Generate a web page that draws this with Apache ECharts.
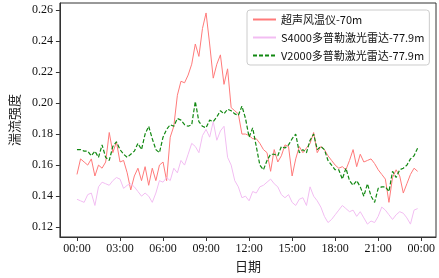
<!DOCTYPE html>
<html>
<head>
<meta charset="utf-8">
<script src="https://cdn.jsdelivr.net/npm/echarts@6/dist/echarts.min.js"></script>
<style>
  html, body { margin: 0; padding: 0; background: #fff; }
  #chart { width: 439px; height: 278px; }
</style>
</head>
<body>
<div id="chart"></div>
<script>
// 图例名称
const seriesNames = ['超声风温仪-70m', 'S4000多普勒激光雷达-77.9m', 'V2000多普勒激光雷达-77.9m'];

// 每15分钟一个点, 00:00 - 23:45
const sonic = [
  0.154, 0.164, 0.162, 0.160, 0.164, 0.153, 0.160, 0.158, 0.162, 0.181,
  0.168, 0.175, 0.162, 0.163, 0.155, 0.144, 0.153, 0.158, 0.150, 0.159,
  0.147, 0.158, 0.150, 0.160, 0.162, 0.150, 0.178, 0.185, 0.205, 0.214,
  0.213, 0.218, 0.225, 0.238, 0.230, 0.248, 0.258, 0.238, 0.216, 0.225,
  0.231, 0.212, 0.222, 0.197, 0.195, 0.193, 0.180, 0.180, 0.179, 0.177,
  0.177, 0.174, 0.170, 0.168, 0.156, 0.170, 0.162, 0.166, 0.173, 0.172,
  0.153, 0.164, 0.172, 0.168, 0.171, 0.174, 0.181, 0.168, 0.172, 0.170,
  0.166, 0.163, 0.160, 0.158, 0.159, 0.157, 0.163, 0.170, 0.159, 0.167,
  0.162, 0.163, 0.164, 0.161, 0.157, 0.154, 0.151, 0.136, 0.152, 0.157,
  0.153, 0.142, 0.148, 0.154, 0.158, 0.156
];
const s4000 = [
  0.138, 0.137, 0.136, 0.141, 0.142, 0.134, 0.146, 0.149, 0.148, 0.147,
  0.150, 0.152, 0.151, 0.145, 0.147, 0.148, 0.146, 0.143, 0.140, 0.142,
  0.140, 0.136, 0.142, 0.150, 0.149, 0.152, 0.150, 0.158, 0.155, 0.163,
  0.160, 0.167, 0.174, 0.172, 0.168, 0.179, 0.183, 0.178, 0.188, 0.176,
  0.182, 0.185, 0.165, 0.160, 0.150, 0.146, 0.139, 0.140, 0.137, 0.143,
  0.142, 0.146, 0.147, 0.149, 0.151, 0.148, 0.146, 0.141, 0.139, 0.141,
  0.136, 0.134, 0.138, 0.139, 0.134, 0.146, 0.140, 0.137, 0.133, 0.127,
  0.123, 0.125, 0.128, 0.131, 0.134, 0.132, 0.130, 0.131, 0.127, 0.130,
  0.126, 0.122, 0.124, 0.123, 0.127, 0.133, 0.131, 0.128, 0.125, 0.128,
  0.130, 0.129, 0.126, 0.122, 0.131, 0.132
];
const v2000 = [
  0.170, 0.170, 0.169, 0.169, 0.166, 0.169, 0.165, 0.173, 0.165, 0.163,
  0.172, 0.175, 0.170, 0.167, 0.165, 0.167, 0.169, 0.174, 0.170, 0.180,
  0.185, 0.177, 0.170, 0.168, 0.178, 0.183, 0.186, 0.185, 0.190, 0.189,
  0.186, 0.185, 0.186, 0.201, 0.188, 0.185, 0.184, 0.189, 0.188, 0.191,
  0.195, 0.193, 0.196, 0.195, 0.193, 0.192, 0.198, 0.190, 0.178, 0.184,
  0.172, 0.160, 0.157, 0.163, 0.167, 0.167, 0.166, 0.172, 0.171, 0.173,
  0.177, 0.180, 0.168, 0.170, 0.168, 0.176, 0.180, 0.170, 0.172, 0.170,
  0.163, 0.160, 0.157, 0.157, 0.151, 0.158, 0.150, 0.147, 0.150, 0.146,
  0.140, 0.148, 0.140, 0.136, 0.145, 0.146, 0.146, 0.143, 0.156, 0.152,
  0.157, 0.158, 0.160, 0.164, 0.166, 0.171
];

// 刻度
const xTicks = [0, 3, 6, 9, 12, 15, 18, 21, 24];
const yTicks = [0.12, 0.14, 0.16, 0.18, 0.20, 0.22, 0.24, 0.26];

// 时间轴(小时)
const hours = sonic.map((_, i) => i * 0.25);
const pair = arr => arr.map((v, i) => [hours[i], v]);

const axisColor = '#333';
const serif = 'Times New Roman, Liberation Serif, serif';
const cjk = 'Noto Sans CJK SC, sans-serif';

const chart = echarts.init(document.getElementById('chart'));
chart.setOption({
  animation: false,
  grid: {
    left: 45, right: 3, top: 3, bottom: 35,
    show: true, borderColor: axisColor, borderWidth: 1
  },
  legend: {
    data: seriesNames,
    orient: 'vertical',
    left: 247, top: 10,
    itemWidth: 23, itemHeight: 10, itemGap: 7,
    padding: [4, 5, 4, 5],
    backgroundColor: '#fff',
    borderColor: '#ccc', borderWidth: 1, borderRadius: 3,
    itemStyle: { opacity: 0 },
    textStyle: { fontSize: 11, fontFamily: cjk, color: '#111' }
  },
  xAxis: {
    type: 'value',
    min: -1.19, max: 25.03,
    name: '日期',
    nameLocation: 'middle',
    nameGap: 23,
    nameTextStyle: { fontSize: 13, fontFamily: cjk, color: '#222' },
    axisLine: { show: true, onZero: false, lineStyle: { color: axisColor, width: 1 } },
    axisTick: { show: true, inside: false, length: 4, customValues: xTicks, lineStyle: { color: axisColor } },
    axisLabel: {
      customValues: xTicks,
      margin: 6,
      fontSize: 12, fontFamily: serif, color: '#111',
      formatter: v => String(v % 24).padStart(2, '0') + ':00'
    },
    splitLine: { show: false }
  },
  yAxis: {
    type: 'value',
    min: 0.1137, max: 0.2644,
    name: '湍流强度',
    nameLocation: 'middle',
    nameGap: 31,
    nameTextStyle: { fontSize: 13, fontFamily: cjk, color: '#222' },
    axisLine: { show: true, onZero: false, lineStyle: { color: axisColor, width: 1 } },
    axisTick: { show: true, inside: false, length: 4, customValues: yTicks, lineStyle: { color: axisColor } },
    axisLabel: {
      customValues: yTicks,
      margin: 7,
      fontSize: 12, fontFamily: serif, color: '#111',
      formatter: v => v.toFixed(2)
    },
    splitLine: { show: false }
  },
  series: [
    {
      name: seriesNames[0], type: 'line', data: pair(sonic),
      symbol: 'none', color: '#ff7a7a',
      lineStyle: { width: 1, color: '#ff7a7a' }
    },
    {
      name: seriesNames[1], type: 'line', data: pair(s4000),
      symbol: 'none', color: '#f2bdf2',
      lineStyle: { width: 1, color: '#f2bdf2' }
    },
    {
      name: seriesNames[2], type: 'line', data: pair(v2000),
      symbol: 'none', color: '#118811',
      lineStyle: { width: 1.2, color: '#118811', type: [4, 2] }
    }
  ]
});
</script>
</body>
</html>
